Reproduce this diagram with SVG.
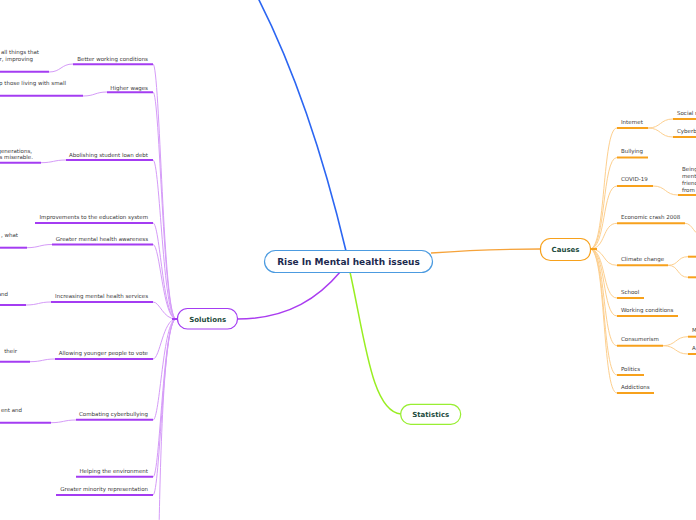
<svg xmlns="http://www.w3.org/2000/svg" width="696" height="520" viewBox="0 0 696 520">
<style>
text{font-family:"DejaVu Sans","Verdana",sans-serif}
.t{font-size:5.5px;fill:#3a3a3a}
.te{font-size:5.5px;fill:#3a3a3a;text-anchor:end}
.pc{fill:none;stroke:#d59bf8;stroke-width:1}
.pu{fill:none;stroke:#a43cf2;stroke-width:2}
.oc{fill:none;stroke:#fdcf8e;stroke-width:1}
.ou{fill:none;stroke:#f7a11c;stroke-width:2}
.node{fill:#fff;stroke-width:1.2}
.nt{font-size:7px;font-weight:bold;fill:#1d4b3d;text-anchor:middle}
</style>
<rect width="696" height="520" fill="#fff"/>
<g id="connectors">
<path d="M346,251 Q310,100 258,-2" fill="none" stroke="#2c66f2" stroke-width="1.6"/>
<path d="M237,319 C290,319 320,296 341,271" fill="none" stroke="#aa3cf0" stroke-width="1.5"/>
<path d="M350,272 C365,340 372,412 401,414" fill="none" stroke="#99ee22" stroke-width="1.5"/>
<path d="M431,253 C470,250 500,249 540,249" fill="none" stroke="#f6a33a" stroke-width="1.3"/>
<!-- solutions fan -->
<path class="pc" d="M176,319 C163,319 160,64 153,64"/>
<path class="pc" d="M176,319 C163,319 160,92 153,92"/>
<path class="pc" d="M176,319 C163,319 160,160 153,160"/>
<path class="pc" d="M176,319 C163,319 160,223 153,223"/>
<path class="pc" d="M176,319 C163,319 160,244.5 153,244.5"/>
<path class="pc" d="M176,319 C163,319 160,302 153,302"/>
<path class="pc" d="M176,319 C163,319 160,359 153,359"/>
<path class="pc" d="M176,319 C163,319 160,420 153,420"/>
<path class="pc" d="M176,319 C163,319 160,477 153,477"/>
<path class="pc" d="M176,319 C163,319 160,495 153,495"/>
<path class="pc" d="M176,319 C163,319 160,480 159,530"/>
<path d="M172,319 L177,319" stroke="#a43cf2" stroke-width="2"/>
<!-- solutions grandchildren curves -->
<path class="pc" d="M73,64 C61,64 61,72 49,72"/>
<path class="pc" d="M107,92 C95,92 95,96 83,96"/>
<path class="pc" d="M66,160 C54,160 53,162.7 41,162.7"/>
<path class="pc" d="M52,244.5 C40,244.5 39,247.7 27,247.7"/>
<path class="pc" d="M51,302 C39,302 38,305 26,305"/>
<path class="pc" d="M55,359 C43,359 42,361.7 30,361.7"/>
<path class="pc" d="M76,420 C64,420 63,422.7 51,422.7"/>
<!-- causes fan -->
<path class="oc" d="M590,249 C606,249 602,128 617,128"/>
<path class="oc" d="M590,249 C606,249 602,157.5 617,157.5"/>
<path class="oc" d="M590,249 C606,249 602,186 617,186"/>
<path class="oc" d="M590,249 C606,249 602,223.3 617,223.3"/>
<path class="oc" d="M590,249 C606,249 602,265.3 617,265.3"/>
<path class="oc" d="M590,249 C606,249 602,298 617,298"/>
<path class="oc" d="M590,249 C606,249 602,316 617,316"/>
<path class="oc" d="M590,249 C606,249 602,345.7 617,345.7"/>
<path class="oc" d="M590,249 C606,249 602,375 617,375"/>
<path class="oc" d="M590,249 C606,249 602,393 617,393"/>
<path d="M590,249 L597,249" stroke="#f7a11c" stroke-width="2"/>
<!-- causes grandchildren curves -->
<path class="oc" d="M648,128 C661,128 660,119 673,119"/>
<path class="oc" d="M648,128 C661,128 660,137 673,137"/>
<path class="oc" d="M653,186 C666,186 665,195 678,195"/>
<path class="oc" d="M685,223.3 C693,223.3 694,236 703,236"/>
<path class="oc" d="M668,265.3 C679,265.3 677,256.7 688,256.7"/>
<path class="oc" d="M668,265.3 C679,265.3 677,277.3 688,277.3"/>
<path class="oc" d="M663,345.7 C676,345.7 675,336.7 688,336.7"/>
<path class="oc" d="M663,345.7 C676,345.7 675,354 688,354"/>
</g>
<g id="central">
<rect class="node" x="264.5" y="250.5" width="168" height="22" rx="11" stroke="#4c9be0"/>
<text x="348.5" y="265" font-size="9" font-weight="bold" fill="#1c2a4e" text-anchor="middle">Rise In Mental health isseus</text>
</g>
<g id="solutions">
<rect class="node" x="177.5" y="308.5" width="60" height="20.5" rx="10" stroke="#a43cf2"/>
<text class="nt" x="207.7" y="321.8">Solutions</text>
</g>
<g id="causes">
<rect class="node" x="540.5" y="238.5" width="50" height="22" rx="10" stroke="#f7a11c"/>
<text class="nt" x="565.5" y="251.8">Causes</text>
</g>
<g id="statistics">
<rect class="node" x="400.7" y="404.3" width="60" height="20" rx="10" stroke="#99ee33"/>
<text class="nt" x="430.7" y="416.8">Statistics</text>
</g>
<g id="solution-branches">
<path class="pu" d="M73,64.3 H153"/><text class="te" x="148" y="61">Better working conditions</text>
<path class="pu" d="M107,92.3 H153"/><text class="te" x="148" y="89.5">Higher wages</text>
<path class="pu" d="M66,160 H153"/><text class="te" x="148" y="156.5">Abolishing student loan debt</text>
<path class="pu" d="M35,223 H153"/><text class="te" x="148" y="219">Improvements to the education system</text>
<path class="pu" d="M52,244.5 H153"/><text class="te" x="148" y="241">Greater mental health awareness</text>
<path class="pu" d="M51,302 H153"/><text class="te" x="148" y="298">Increasing mental health services</text>
<path class="pu" d="M55,359 H153"/><text class="te" x="148" y="355">Allowing younger people to vote</text>
<path class="pu" d="M76,419.7 H153"/><text class="te" x="148" y="416">Combating cyberbullying</text>
<path class="pu" d="M76,476.7 H153"/><text class="te" x="148" y="473">Helping the environment</text>
<path class="pu" d="M56,495 H153"/><text class="te" x="148" y="491">Greater minority representation</text>
</g>
<g id="solution-details">
<path class="pu" d="M-5,71.7 H49"/><text class="te" x="39" y="54">all things that</text><text class="te" x="33" y="61">r, improving</text>
<path class="pu" d="M-5,95.7 H83"/><text class="te" x="66" y="85">p those living with small</text>
<path class="pu" d="M-5,162.7 H41"/><text class="te" x="32" y="153">generations,</text><text class="te" x="33" y="159">s miserable.</text>
<path class="pu" d="M-5,247.7 H27"/><text class="te" x="18" y="236.5">, what</text>
<path class="pu" d="M-5,305 H26"/><text class="te" x="8" y="296">and</text>
<path class="pu" d="M-5,361.7 H30"/><text class="te" x="17" y="352.5">their</text>
<path class="pu" d="M-5,422.7 H51"/><text class="te" x="22" y="412">ent and</text>
</g>
<g id="cause-branches">
<path class="ou" d="M617,128 H648"/><text class="t" x="621" y="124">Internet</text>
<path class="ou" d="M617,157.5 H648"/><text class="t" x="621" y="153">Bullying</text>
<path class="ou" d="M617,186 H653"/><text class="t" x="621" y="181.3">COVID-19</text>
<path class="ou" d="M617,223.3 H685"/><text class="t" x="621" y="218.7">Economic crash 2008</text>
<path class="ou" d="M617,265.3 H668"/><text class="t" x="621" y="261">Climate change</text>
<path class="ou" d="M617,298 H644"/><text class="t" x="621" y="294">School</text>
<path class="ou" d="M617,316 H678"/><text class="t" x="621" y="312">Working conditions</text>
<path class="ou" d="M617,345.7 H663"/><text class="t" x="621" y="341">Consumerism</text>
<path class="ou" d="M617,375 H644"/><text class="t" x="621" y="371">Politics</text>
<path class="ou" d="M617,393 H654"/><text class="t" x="621" y="389">Addictions</text>
</g>
<g id="cause-details">
<path class="ou" d="M673,119 H700"/><text class="t" x="677" y="115">Social m</text>
<path class="ou" d="M673,137 H700"/><text class="t" x="677" y="133">Cyberb</text>
<path class="ou" d="M678,195 H700"/><text class="t" x="682" y="171">Being</text><text class="t" x="682" y="178">ment</text><text class="t" x="682" y="185">friend</text><text class="t" x="682" y="192">from</text>
<path class="ou" d="M688,256.7 H700"/>
<path class="ou" d="M688,277.3 H700"/>
<path class="ou" d="M688,336.7 H700"/><text class="t" x="692" y="332">M</text>
<path class="ou" d="M688,354 H700"/><text class="t" x="692" y="349.7">A</text>
</g>
</svg>
